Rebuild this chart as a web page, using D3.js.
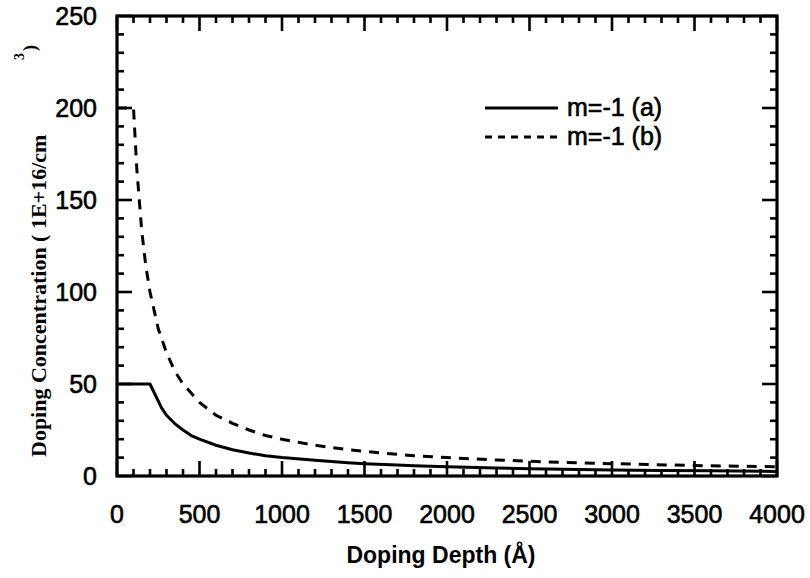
<!DOCTYPE html>
<html>
<head>
<meta charset="utf-8">
<script src="https://cdn.jsdelivr.net/npm/d3@7"></script>
<style>
  html, body { margin: 0; padding: 0; background: #fff; }
  svg { display: block; }
  text { fill: #000; }
  .heavy { stroke: #000; stroke-width: 0.6px; }
</style>
</head>
<body>
<svg id="chart" width="810" height="578"></svg>
<script>
// Doping profiles: concentration (1E+16/cm^3) versus doping depth (Å)
const depthA = [0, 200, 270, 300, 350, 400, 450, 500, 600, 700, 800, 900, 1000, 1200, 1400, 1500, 1700, 1800, 2000, 2300, 2500, 2800, 3000, 3300, 3600, 4000];
const concA  = [50, 50, 37, 33, 28.5, 25, 22, 20, 16.7, 14.3, 12.5, 11, 10, 8.5, 7.2, 6.7, 6, 5.6, 5, 4.4, 4, 3.6, 3.3, 3, 2.8, 2.5];

const depthB = [0, 100, 120, 150, 175, 200, 250, 300, 350, 400, 500, 600, 700, 800, 900, 1000, 1200, 1400, 1600, 1800, 2000, 2300, 2600, 3000, 3500, 4000];
const concB  = [200, 200, 167, 133, 114, 100, 80, 67, 57, 50, 40, 33, 28.6, 25, 22, 20, 16.7, 14.3, 12.5, 11, 10, 8.7, 7.7, 6.7, 5.7, 5];

const seriesNames = ["m=-1 (a)", "m=-1 (b)"];
const xTickLabels = [0, 500, 1000, 1500, 2000, 2500, 3000, 3500, 4000];
const yTickLabels = [0, 50, 100, 150, 200, 250];

const svg = d3.select("#chart");
const plotLeft = 117, plotRight = 777, plotTop = 16, plotBottom = 476;

const x = d3.scaleLinear().domain([0, 4000]).range([plotLeft, plotRight]);
const y = d3.scaleLinear().domain([0, 250]).range([plotBottom, plotTop]);

const sans = "'Liberation Sans', Arial, Helvetica, sans-serif";
const serif = "'Liberation Serif', 'Times New Roman', serif";

// Tick marks on all four sides, pointing inward
const xMinor = d3.range(0, 4001, 100);
const yMinor = d3.range(0, 251, 10);
const isMajorX = v => v % 500 === 0;
const isMajorY = v => v % 50 === 0;
const tickG = svg.append("g").attr("stroke", "#000").attr("stroke-width", 2.6);
xMinor.forEach(v => {
  const len = isMajorX(v) ? 15 : 7;
  tickG.append("line").attr("x1", x(v)).attr("x2", x(v)).attr("y1", plotBottom).attr("y2", plotBottom - len);
  tickG.append("line").attr("x1", x(v)).attr("x2", x(v)).attr("y1", plotTop).attr("y2", plotTop + len);
});
yMinor.forEach(v => {
  const len = isMajorY(v) ? 15 : 7;
  tickG.append("line").attr("x1", plotLeft).attr("x2", plotLeft + len).attr("y1", y(v)).attr("y2", y(v));
  tickG.append("line").attr("x1", plotRight).attr("x2", plotRight - len).attr("y1", y(v)).attr("y2", y(v));
});

// Frame
svg.append("rect")
  .attr("x", plotLeft).attr("y", plotTop)
  .attr("width", plotRight - plotLeft).attr("height", plotBottom - plotTop)
  .attr("fill", "none").attr("stroke", "#000").attr("stroke-width", 3.2);

// Tick labels
svg.append("g").selectAll("text").data(xTickLabels).join("text")
  .attr("class", "heavy")
  .attr("x", d => x(d)).attr("y", 523)
  .attr("text-anchor", "middle")
  .style("font-family", sans).style("font-size", "25px")
  .text(d => d);

svg.append("g").selectAll("text").data(yTickLabels).join("text")
  .attr("class", "heavy")
  .attr("x", 97).attr("y", d => y(d) + 9)
  .attr("text-anchor", "end")
  .style("font-family", sans).style("font-size", "25px")
  .text(d => d);

// Axis titles
svg.append("text")
  .attr("x", 441).attr("y", 563)
  .attr("text-anchor", "middle")
  .style("font-family", sans).style("font-size", "23px").style("font-weight", "bold")
  .text("Doping Depth (Å)");

svg.append("text")
  .attr("transform", "translate(46,457) rotate(-90)")
  .attr("text-anchor", "start")
  .style("font-family", serif).style("font-size", "22px").style("font-weight", "bold")
  .text("Doping Concentration ( 1E+16/cm");
svg.append("text")
  .attr("transform", "translate(24,60) rotate(-90)")
  .style("font-family", serif).style("font-size", "14px").style("font-weight", "bold")
  .text("3");
svg.append("text")
  .attr("transform", "translate(36,51) rotate(-90)")
  .style("font-family", serif).style("font-size", "18px").style("font-weight", "bold")
  .text(")");

// Curves
const line = d3.line().x(d => x(d[0])).y(d => y(d[1]));
const dataA = depthA.map((d, i) => [d, concA[i]]);
const dataB = depthB.map((d, i) => [d, concB[i]]);

svg.append("path").datum(dataA)
  .attr("d", line)
  .attr("fill", "none").attr("stroke", "#000").attr("stroke-width", 3)
  .attr("stroke-linejoin", "round");

svg.append("path").datum(dataB)
  .attr("d", line)
  .attr("fill", "none").attr("stroke", "#000").attr("stroke-width", 3)
  .attr("stroke-dasharray", "10,8");

// Legend
const legend = svg.append("g");
const rows = [{ name: seriesNames[0], dash: null, y: 108 }, { name: seriesNames[1], dash: "7,6", y: 137 }];
rows.forEach(r => {
  legend.append("line")
    .attr("x1", 485).attr("x2", 558).attr("y1", r.y).attr("y2", r.y)
    .attr("stroke", "#000").attr("stroke-width", 3)
    .attr("stroke-dasharray", r.dash);
  legend.append("text")
    .attr("class", "heavy")
    .attr("x", 567).attr("y", r.y + 8)
    .style("font-family", sans).style("font-size", "25px")
    .text(r.name);
});
</script>
</body>
</html>
